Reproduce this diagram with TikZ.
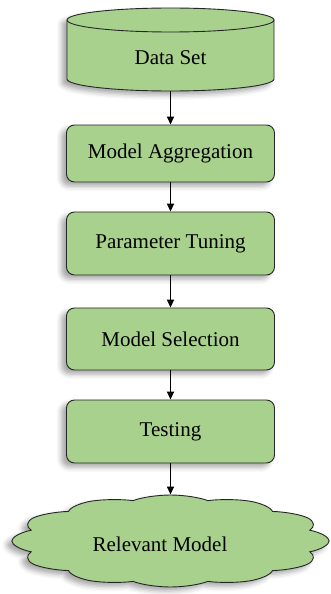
\documentclass[tikz,border=0pt]{standalone}
\usepackage{fontspec}
\setmainfont{Liberation Serif}
\usetikzlibrary{shapes.symbols,arrows.meta,shadows.blur}
\definecolor{boxgreen}{HTML}{A9D18E}
\begin{document}
\begin{tikzpicture}[x=1pt,y=-1pt,
  shad/.style={blur shadow={shadow xshift=-5pt, shadow yshift=-4pt, shadow blur radius=5pt, shadow opacity=35}},
  txt/.style={font=\fontsize{21}{25}\selectfont, text=black},
  stepbox/.style={rectangle, rounded corners=8pt, draw=black!85, line width=0.9pt, fill=boxgreen,
    minimum width=208pt, txt, shad},
  arr/.style={-{Triangle[length=8pt,width=7pt]}, line width=1.8pt}]
\useasboundingbox (0,0) rectangle (331,594);
% cylinder
\path[fill=boxgreen, draw=black!85, line width=0.9pt, shad]
  (67,20) -- (67,79) arc[start angle=180, end angle=360, x radius=103.5pt, y radius=12pt]
  -- (274,20) arc[start angle=0, end angle=180, x radius=103.5pt, y radius=12pt] -- cycle;
\draw[black!85, line width=0.9pt] (67,20) arc[start angle=180, end angle=360, x radius=103.5pt, y radius=12pt];
\node[minimum width=207pt, minimum height=83pt, inner sep=0pt] (ds) at (170.5,49.5) {};
\node[txt] (dst) at (170.5,58) {Data Set};
% boxes
\node[stepbox, minimum height=57pt] (agg) at (170.5,153.5) {Model Aggregation};
\node[stepbox, minimum height=63pt] (tun) at (170.5,243.5) {Parameter Tuning};
\node[stepbox, minimum height=62pt] (sel) at (170.5,339) {Model Selection};
\node[stepbox, minimum height=63pt] (tst) at (170.5,431.5) {Testing};
% cloud
\node[cloud, cloud puffs=12, cloud puff arc=110, aspect=1, minimum width=92pt, minimum height=92pt, inner sep=0pt,
  xscale=3.45, transform shape,
  draw=black!85, line width=0.9pt, fill=boxgreen, shad] (rel) at (170.5,541) {};
\node[txt] (relt) at (160,544) {Relevant Model};
% arrows
\draw[arr] (ds.south) -- (agg.north);
\draw[arr] (agg.south) -- (tun.north);
\draw[arr] (tun.south) -- (sel.north);
\draw[arr] (sel.south) -- (tst.north);
\draw[arr] (tst.south) -- (rel.north);
\end{tikzpicture}
\end{document}
